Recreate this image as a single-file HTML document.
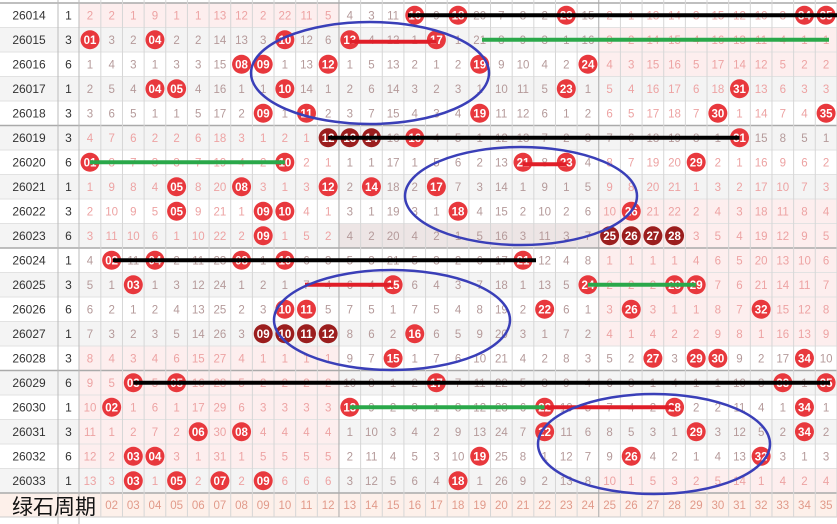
<!DOCTYPE html>
<html><head><meta charset="utf-8">
<style>
html,body{margin:0;padding:0;background:#fff;width:837px;height:524px;overflow:hidden}
svg{display:block}
text{font-family:"Liberation Sans","Noto Sans CJK SC",sans-serif}
</style></head>
<body>
<svg id="s" width="837" height="524" xmlns="http://www.w3.org/2000/svg"></svg>
<script>
const S=document.getElementById('s');
const NS='http://www.w3.org/2000/svg';
function el(t,a,txt){const e=document.createElementNS(NS,t);for(const k in a)e.setAttribute(k,a[k]);if(txt!==undefined)e.textContent=txt;S.appendChild(e);return e;}
const hits=[
[16,18,23,34,35],[1,4,10,13,17],[8,9,12,19,24],[4,5,10,23,31],[9,11,19,30,35],
[12,13,14,16,31],[1,10,21,23,29],[5,8,12,14,17],[5,9,10,18,26],[9,25,26,27,28],
[2,4,8,10,21],[3,15,24,28,29],[10,11,22,26,32],[9,10,11,12,16],[15,27,29,30,34],
[3,5,17,33,35],[2,13,22,28,34],[6,8,22,29,34],[3,4,19,26,32],[3,5,7,9,18]];
const dark={5:[12,13,14],9:[25,26,27,28],13:[9,10,11,12]};
const cnt=[1,3,6,1,3,3,6,1,3,6,1,3,6,1,3,6,1,3,6,1];
const init=[2,2,1,9,1,1,13,12,2,22,11,5,4,3,11,0,9,0,20,7,8,2,0,15,2,1,13,14,3,15,12,10,3,0,0];
const RH=24.5,T=3,CW=21.65;
const cx=k=>90+(k-1)*CW;
const ry=i=>T+i*RH;
for(let i=0;i<20;i++){el('rect',{x:0,y:ry(i),width:837,height:RH,fill:i%2?'#f4f4f4':'#fff'});}
const pz=[[0,1,12],[1,25,35],[2,25,35],[8,25,35],[9,25,35],[10,25,35],[11,25,35],[12,25,35],[13,25,35],[14,1,12],[15,1,12],[16,1,12],[17,1,12],[18,1,12],[19,25,35]];
pz.forEach(([i,a,b])=>el('rect',{x:cx(a)-CW/2,y:ry(i),width:(b-a+1)*CW,height:RH,fill:'#fdeeee'}));
el('rect',{x:cx(13)-CW/2,y:ry(9),width:12*CW,height:RH,fill:'#ede5e5'});
el('rect',{x:0,y:ry(20),width:837,height:24,fill:'#fdf0ea'});
for(let i=0;i<=20;i++){const y=ry(i);el('line',{x1:0,x2:837,y1:y,y2:y,stroke:(i%5==0)?'#aaa':'#e2e2e2','stroke-width':(i%5==0)?1.5:1});}
el('line',{x1:0,x2:837,y1:ry(20)+24,y2:ry(20)+24,stroke:'#ccc'});
el('line',{x1:58,x2:58,y1:0,y2:524,stroke:'#bbb'});
el('line',{x1:79,x2:79,y1:0,y2:524,stroke:'#bbb'});
for(let k=1;k<=35;k++){const x=cx(k)+CW/2;el('line',{x1:x,x2:x,y1:0,y2:517,stroke:(k==12||k==24)?'#aaa':'#d6d6d6'});}
let miss=init.slice();
for(let i=0;i<20;i++){
 const y=ry(i)+RH/2;
 el('text',{x:29,y:y+4,'text-anchor':'middle','font-size':12,fill:'#333'},String(26014+i));
 el('text',{x:68.5,y:y+4,'text-anchor':'middle','font-size':12,fill:'#333'},cnt[i]);
 for(let k=1;k<=35;k++){
  if(i>0){miss[k-1]=hits[i-1].includes(k)?1:miss[k-1]+1;}
  const x=cx(k);
  if(hits[i].includes(k)){
   const d=(dark[i]||[]).includes(k);
   el('circle',{cx:x,cy:y,r:9.5,fill:d?'#9b1e1e':'#e8383d'});
   el('text',{x:x,y:y+4,'text-anchor':'middle','font-size':11.5,'font-weight':'bold',fill:'#fff'},String(k).padStart(2,'0'));
  } else {
   const pink=(k<=12&&(i<1||i>=14||(i>=5&&i<=9)))||(k>=25&&(i<=4||(i>=6&&i<=13)||i==19));
   el('text',{x:x,y:y+4,'text-anchor':'middle','font-size':11.5,fill:pink?'#eda3a3':'#b59a9a'},miss[k-1]);
  }
 }
}
for(let k=2;k<=35;k++)el('text',{x:cx(k),y:ry(20)+16,'text-anchor':'middle','font-size':11.5,fill:'#e19a8a'},String(k).padStart(2,'0'));
el('text',{x:12,y:ry(20)+21,'font-size':21,fill:'#111','font-family':'"Noto Sans CJK SC",sans-serif'},'绿石周期');
const L=(x1,x2,i,c,dy)=>el('line',{x1:x1,x2:x2,y1:ry(i)+RH/2+(dy||0),y2:ry(i)+RH/2+(dy||0),stroke:c,'stroke-width':4});
L(408,837,0,'#000');L(cx(13),cx(17),1,'#e01e28',2);L(482,829,1,'#2aa84a');
L(cx(12),cx(31),5,'#000');L(cx(1),cx(10),6,'#2aa84a');L(cx(21),cx(23),6,'#e01e28',2);
L(113,536,10,'#000');L(305,cx(15),11,'#e01e28');L(cx(24),cx(29),11,'#2aa84a');
L(cx(3),830,15,'#000');L(cx(13),cx(22),16,'#2aa84a');L(cx(22),cx(28),16,'#e01e28');
const E=(x,y,rx,ry2)=>el('ellipse',{cx:x,cy:y,rx:rx,ry:ry2,fill:'none',stroke:'#3a3fb8','stroke-width':2.5});
E(370,73,119,51);E(521,196,116,49);E(392,320,118,50);E(654,444,116,50);
</script>
</body></html>
